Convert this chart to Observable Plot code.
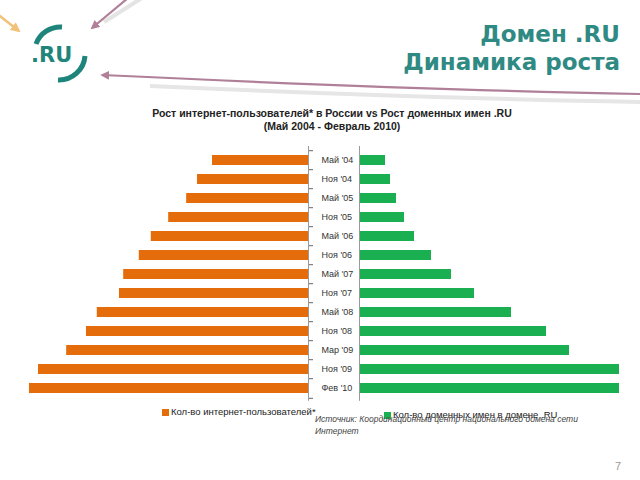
<!DOCTYPE html>
<html>
<head>
<meta charset="utf-8">
<script src="https://cdn.jsdelivr.net/npm/d3@7"></script>
<script src="https://cdn.jsdelivr.net/npm/@observablehq/plot@0.6"></script>
<style>
  html, body { margin: 0; padding: 0; background: #fff; }
  body { width: 640px; height: 480px; position: relative; overflow: hidden; font-family: "Liberation Sans", Arial, sans-serif; }
  .abs { position: absolute; }
  #deco { position: absolute; left: 0; top: 0; }
  .title { right: 20px; color: #2f8a83; font-family: "DejaVu Sans", sans-serif; font-weight: bold; font-size: 23px; text-align: right; white-space: nowrap; }
  .ctitle { left: 0; width: 664px; text-align: center; font-weight: bold; font-size: 10.5px; color: #222; white-space: nowrap; }
  .leg { font-size: 9.5px; color: #222; white-space: nowrap; }
  .sw { display: inline-block; width: 7px; height: 7px; vertical-align: -1px; margin-right: 2px; }
  .src { font-size: 8.5px; font-style: italic; color: #444; white-space: nowrap; line-height: 12px; }
</style>
</head>
<body>
<svg id="deco" width="640" height="480">
  <defs>
    <marker id="ah1" viewBox="0 0 10 10" refX="8" refY="5" markerWidth="4" markerHeight="4" orient="auto"><path d="M0,0 L10,5 L0,10 z" fill="#f2c27a"/></marker>
    <marker id="ah2" viewBox="0 0 10 10" refX="8" refY="5" markerWidth="4" markerHeight="4" orient="auto"><path d="M0,0 L10,5 L0,10 z" fill="#b07f98"/></marker>
  </defs>
  <line x1="142" y1="-2" x2="104" y2="22" stroke="#e4e4e4" stroke-width="4"/>
  <line x1="-4" y1="13" x2="19" y2="31" stroke="#f2c27a" stroke-width="2.5" marker-end="url(#ah1)"/>
  <line x1="128" y1="-2" x2="92" y2="28" stroke="#b07f98" stroke-width="2.2" marker-end="url(#ah2)"/>
  <path d="M640,102 Q420,98 150,86" fill="none" stroke="#e6e6e6" stroke-width="4"/>
  <path d="M640,94 Q420,90 102,75" fill="none" stroke="#b07f98" stroke-width="2.2" marker-end="url(#ah2)"/>
  <path d="M36,44 A26,26 0 0 1 62,27" fill="none" stroke="#1f857a" stroke-width="5"/>
  <path d="M85,56 A26,26 0 0 1 58,80" fill="none" stroke="#1f857a" stroke-width="5"/>
  <text x="31" y="62" font-family="DejaVu Sans" font-weight="bold" font-size="21" fill="#1f857a">.RU</text>
</svg>

<div class="abs title" style="top:21px">Домен .RU</div>
<div class="abs title" style="top:49px">Динамика роста</div>

<div class="abs ctitle" style="top:107px">Рост интернет-пользователей* в России vs Рост доменных имен .RU</div>
<div class="abs ctitle" style="top:120px">(Май 2004 - Февраль 2010)</div>

<div id="left" class="abs" style="left:0px; top:140px"></div>
<div id="right" class="abs" style="left:310px; top:140px"></div>

<div class="abs leg" style="left:162px; top:406px"><span class="sw" style="background:#e46c0a"></span>Кол-во интернет-пользователей*</div>
<div class="abs leg" style="left:384px; top:409px"><span class="sw" style="background:#1aaf50"></span>Кол-во доменных имен в домене .RU</div>
<div class="abs src" style="left:315px; top:413px">Источник: Координационный центр национального домена сети<br>Интернет</div>

<div class="abs" style="left:615px; top:460px; font-size:11px; color:#999">7</div>

<script>
// Categories (half-year periods)
const categories = ["Май '04","Ноя '04","Май '05","Ноя '05","Май '06","Ноя '06","Май '07","Ноя '07","Май '08","Ноя '08","Мар '09","Ноя '09","Фев '10"];
// Internet users in Russia, millions
const internetUsers = [16.0, 18.5, 20.3, 23.3, 26.2, 28.2, 30.8, 31.5, 35.2, 37.0, 40.3, 45.0, 46.5];
// .RU domain names, thousands
const ruDomains = [260, 310, 370, 450, 550, 720, 920, 1150, 1520, 1870, 2100, 2600, 2600];

const rows = categories.map((c, i) => ({cat: c, users: internetUsers[i], domains: ruDomains[i]}));
const step = 19.6;
const yOpts = {domain: categories, paddingInner: 0.49, paddingOuter: 0.245, axis: null};
const style = {fontFamily: "Liberation Sans, Arial, sans-serif", fontSize: "9px", background: "transparent", overflow: "visible"};

const left = Plot.plot({
  width: 318, height: 265,
  marginLeft: 0, marginRight: 10, marginTop: 6, marginBottom: 4.2,
  style,
  x: {domain: [0, 51.33], reverse: true, axis: null},
  y: yOpts,
  marks: [
    Plot.barX(rows, {x: "users", y: "cat", fill: "#e46c0a"}),
    Plot.ruleX([0], {stroke: "#9a9a9a"}),
    Plot.axisY({anchor: "right", tickSize: 4, tickFormat: () => "", dy: -step / 2, stroke: "#666", label: null}),
    Plot.axisY([categories[categories.length - 1]], {anchor: "right", tickSize: 4, tickFormat: () => "", dy: step / 2, stroke: "#666", label: null})
  ]
});
document.getElementById("left").append(left);

const right = Plot.plot({
  width: 330, height: 265,
  marginLeft: 49, marginRight: 21, marginTop: 6, marginBottom: 4.2,
  style,
  x: {domain: [0, 2600], axis: null},
  y: yOpts,
  marks: [
    Plot.barX(rows, {x: "domains", y: "cat", fill: "#1aaf50"}),
    Plot.ruleX([0], {stroke: "#9a9a9a"}),
    Plot.text(rows, {y: "cat", text: "cat", frameAnchor: "left", dx: -38, textAnchor: "start", fill: "#333", fontSize: 9})
  ]
});
document.getElementById("right").append(right);
</script>
</body>
</html>
